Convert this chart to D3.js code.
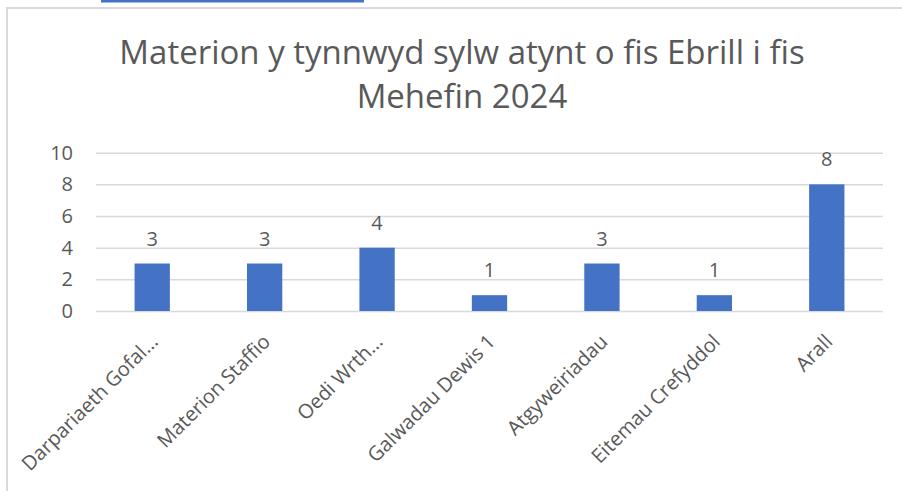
<!DOCTYPE html>
<html><head><meta charset="utf-8">
<script src="https://cdn.jsdelivr.net/npm/d3@7"></script>
<style>
body{margin:0;background:#fff;}
text{font-family:"Open Sans",sans-serif;fill:#595959;}
</style></head>
<body><svg id="c" width="902" height="491"></svg>
<script>
const categories = ["Darpariaeth Gofal...", "Materion Staffio", "Oedi Wrth...", "Galwadau Dewis 1", "Atgyweiriadau", "Eitemau Crefyddol", "Arall"];
const values = [3, 3, 4, 1, 3, 1, 8];
const yTicks = [0, 2, 4, 6, 8, 10];
const titleLines = ["Materion y tynnwyd sylw atynt o fis Ebrill i fis", "Mehefin 2024"];

const svg = d3.select("#c");
// top decoration bar
svg.append("rect").attr("x",101).attr("y",0).attr("width",263).attr("height",2.5).attr("fill","#4472C4");
// chart border (top + left)
svg.append("path").attr("d","M7,491 V8 H902").attr("fill","none").attr("stroke","#d9d9d9").attr("stroke-width",2);

const m = {left:96, right:883, top:152.7, bottom:311};
const x = d3.scaleBand().domain(categories).range([m.left, m.right]).paddingInner(0.686).paddingOuter(0.343);
const y = d3.scaleLinear().domain([0,10]).range([m.bottom, m.top]);

// title
svg.append("g").selectAll("text").data(titleLines).join("text")
  .attr("x",462).attr("y",(d,i)=>64+i*44).attr("text-anchor","middle")
  .style("font-size","33px").text(d=>d);

// gridlines
const yAxis = d3.axisLeft(y).tickValues(yTicks).tickSize(-(m.right-m.left)).tickPadding(23);
const gy = svg.append("g").attr("transform",`translate(${m.left},0)`).call(yAxis);
gy.select(".domain").remove();
gy.selectAll(".tick line").attr("stroke","#d9d9d9").attr("stroke-width",1.5);
gy.selectAll(".tick text").style("font-size","20px").attr("fill","#595959");

// bars
svg.append("g").selectAll("rect").data(values).join("rect")
  .attr("x",(d,i)=>x(categories[i])).attr("width",x.bandwidth())
  .attr("y",d=>y(d)).attr("height",d=>y(0)-y(d))
  .attr("fill","#4472C4");

// value labels
svg.append("g").selectAll("text").data(values).join("text")
  .attr("x",(d,i)=>x(categories[i])+x.bandwidth()/2).attr("y",d=>y(d)-18)
  .attr("text-anchor","middle").style("font-size","20px").text(d=>d);

// x axis labels
const xAxis = d3.axisBottom(x).tickSize(0).tickPadding(0);
const gx = svg.append("g").attr("transform",`translate(0,${m.bottom})`).call(xAxis);
gx.select(".domain").remove();
gx.selectAll(".tick text")
  .attr("text-anchor","end").attr("fill","#595959").style("font-size","20px")
  .attr("transform","translate(2,27) rotate(-45)").attr("dy","0.35em").attr("y",0);
</script></body></html>
